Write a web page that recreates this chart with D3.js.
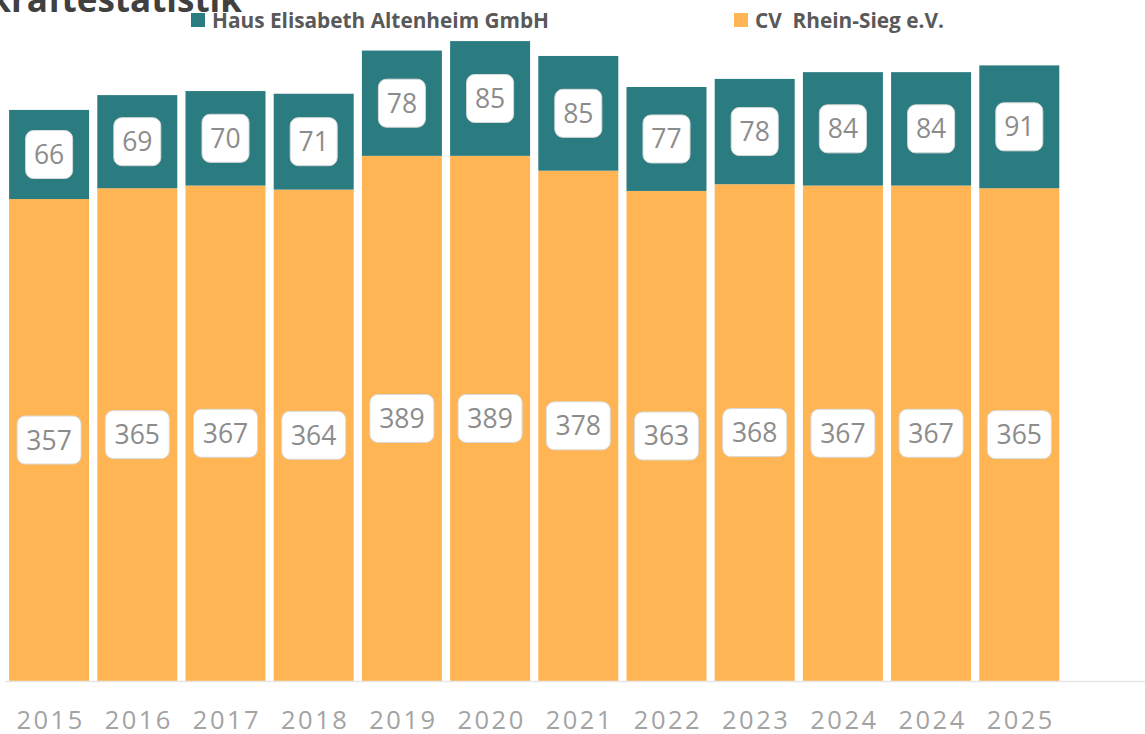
<!DOCTYPE html>
<html>
<head>
<meta charset="utf-8">
<script src="https://cdn.jsdelivr.net/npm/d3@7"></script>
<style>
  body { margin: 0; background: #fff; }
  svg { display: block; }
</style>
</head>
<body>
<div id="canvas"></div>
<script>
"use strict"

/* canvas size */
let svgWidth = 1145;
let svgHeight = 734;

/* data */
let years = ["2015", "2016", "2017", "2018", "2019", "2020", "2021", "2022", "2023", "2024", "2024 ", "2025"];
let cvValues = [357, 365, 367, 364, 389, 389, 378, 363, 368, 367, 367, 365];
let hausValues = [66, 69, 70, 71, 78, 85, 85, 77, 78, 84, 84, 91];
let seriesNames = ["Haus Elisabeth Altenheim GmbH", "CV  Rhein-Sieg e.V."];

let tealColor = "#2b7c80";
let orangeColor = "#ffb554";

let svg = d3.select("#canvas")
    .append("svg")
    .attr("width", svgWidth)
    .attr("height", svgHeight);

/* scales */
let xScale = d3.scaleBand()
    .domain(years)
    .range([5, 1063.4])
    .paddingInner(0.093)
    .paddingOuter(0.0465);

let yScale = d3.scaleLinear()
    .domain([0, 500])
    .range([681, 6]);

/* stack the two series */
let rows = years.map(function (y, i) {
    return { year: y, cv: cvValues[i], haus: hausValues[i] };
});
let stacked = d3.stack().keys(["cv", "haus"])(rows);
let colors = { cv: orangeColor, haus: tealColor };

/* title, cut off at the top */
svg.append("text")
    .attr("x", 242)
    .attr("y", 12)
    .attr("text-anchor", "end")
    .style("font-family", "'Open Sans', sans-serif")
    .style("font-weight", "bold")
    .style("font-size", "35px")
    .attr("fill", "#404040")
    .text("Fachkräftestatistik");

/* bars */
stacked.forEach(function (layer) {
    svg.append("g")
        .selectAll("rect")
        .data(layer)
        .join("rect")
        .attr("x", function (d) { return xScale(d.data.year); })
        .attr("y", function (d) { return yScale(d[1]); })
        .attr("width", xScale.bandwidth())
        .attr("height", function (d) { return yScale(d[0]) - yScale(d[1]); })
        .attr("fill", colors[layer.key]);
});

/* axis line */
svg.append("line")
    .attr("x1", 5)
    .attr("x2", svgWidth)
    .attr("y1", yScale(0) + 0.5)
    .attr("y2", yScale(0) + 0.5)
    .attr("stroke", "#e6e6e6")
    .attr("stroke-width", 1.5);

/* data labels in rounded white boxes */
stacked.forEach(function (layer) {
    let g = svg.append("g")
        .selectAll("g")
        .data(layer)
        .join("g")
        .attr("transform", function (d) {
            let cx = xScale(d.data.year) + xScale.bandwidth() / 2;
            let cy = (yScale(d[0]) + yScale(d[1])) / 2;
            return "translate(" + cx + "," + cy + ")";
        });

    g.append("rect")
        .attr("x", function (d) { return String(d[1] - d[0]).length > 2 ? -32 : -23.5; })
        .attr("y", -24)
        .attr("width", function (d) { return String(d[1] - d[0]).length > 2 ? 64 : 47; })
        .attr("height", 48)
        .attr("rx", 8)
        .attr("fill", "#ffffff")
        .attr("stroke", "#d9d9d9")
        .attr("stroke-width", 1);

    g.append("text")
        .attr("text-anchor", "middle")
        .attr("y", 9.5)
        .style("font-family", "'Open Sans', sans-serif")
        .style("font-size", "26.5px")
        .attr("fill", "#8c8c8c")
        .text(function (d) { return d[1] - d[0]; });
});

/* year labels */
svg.append("g")
    .selectAll("text")
    .data(years)
    .join("text")
    .attr("x", function (d) { return xScale(d) + xScale.bandwidth() / 2 + 1.5; })
    .attr("y", 728.5)
    .attr("text-anchor", "middle")
    .style("font-family", "'Open Sans', sans-serif")
    .style("font-size", "25.5px")
    .style("letter-spacing", "2.5px")
    .attr("fill", "#a3a3a3")
    .text(function (d) { return d.trim(); });

/* legend */
let legendItems = [
    { name: seriesNames[0], color: tealColor, x: 191 },
    { name: seriesNames[1], color: orangeColor, x: 734 }
];
legendItems.forEach(function (item) {
    svg.append("rect")
        .attr("x", item.x)
        .attr("y", 13)
        .attr("width", 14)
        .attr("height", 14)
        .attr("fill", item.color);
    svg.append("text")
        .attr("x", item.x + 21)
        .attr("y", 28)
        .style("font-family", "'Open Sans', sans-serif")
        .style("font-weight", "bold")
        .style("font-size", "20.8px")
        .style("white-space", "pre")
        .attr("fill", "#595959")
        .text(item.name);
});
</script>
</body>
</html>
